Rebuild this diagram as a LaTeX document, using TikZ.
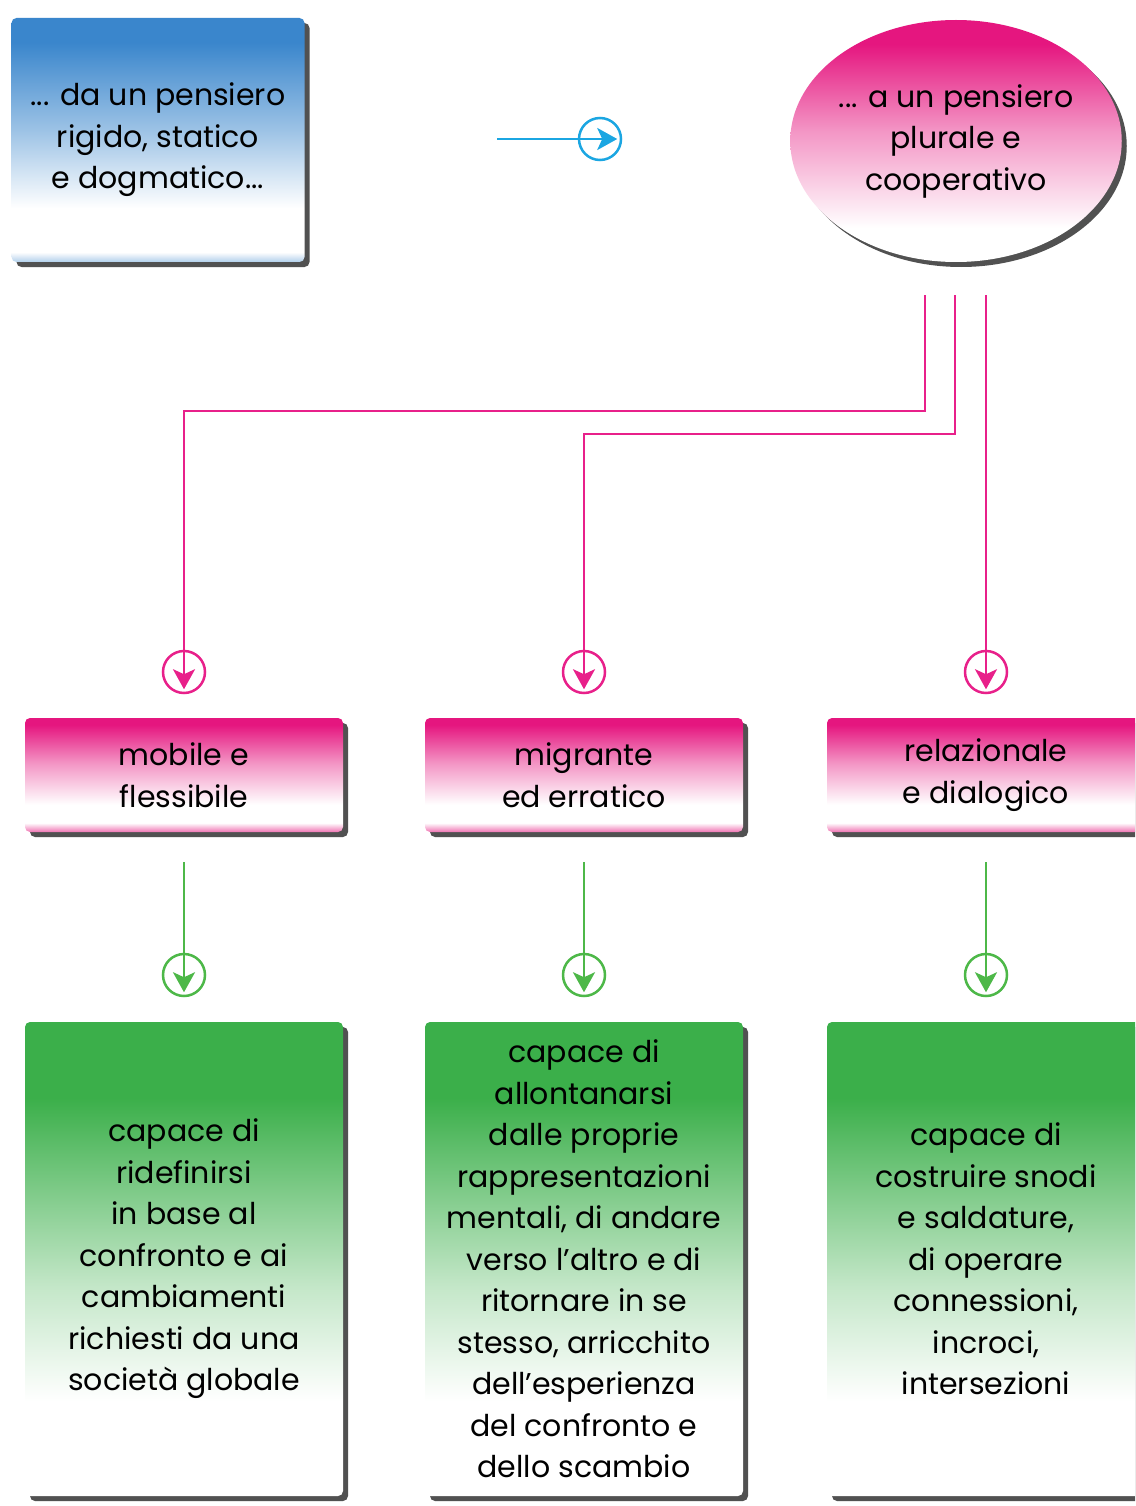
\documentclass[tikz,border=0pt]{standalone}
\usepackage{fontspec}
\setmainfont{Poppins}
\usetikzlibrary{arrows.meta, positioning, shapes.geometric, shadows}
\definecolor{mapBlue}{HTML}{3A86CC}
\definecolor{mapPink}{HTML}{E5167F}
\definecolor{mapGreen}{HTML}{3BAF4A}
\definecolor{lineBlue}{HTML}{1BA6E2}
\definecolor{linePink}{HTML}{E8208A}
\definecolor{lineGreen}{HTML}{4DB848}
\pgfdeclareverticalshading{blueshade}{100bp}{color(0bp)=(mapBlue!40!white); color(25bp)=(mapBlue!40!white);
  color(27bp)=(white); color(36bp)=(white); color(52bp)=(mapBlue!50!white); color(70bp)=(mapBlue); color(100bp)=(mapBlue)}
\pgfdeclareverticalshading{pinkshade}{100bp}{color(0bp)=(mapPink!60!white); color(25bp)=(mapPink!60!white);
  color(29bp)=(white); color(37bp)=(white); color(55bp)=(mapPink!45!white); color(72bp)=(mapPink); color(100bp)=(mapPink)}
\pgfdeclareverticalshading{bubbleshade}{100bp}{color(0bp)=(white); color(32bp)=(white);
  color(52bp)=(mapPink!45!white); color(70bp)=(mapPink); color(100bp)=(mapPink)}
\pgfdeclareverticalshading{greenshade}{100bp}{color(0bp)=(white); color(35bp)=(white);
  color(47bp)=(mapGreen!30!white); color(57bp)=(mapGreen!65!white); color(67bp)=(mapGreen); color(100bp)=(mapGreen)}

\begin{document}
\begin{tikzpicture}[x=1pt, y=1pt,
    txt/.style={align=center, text=black, font=\fontsize{30}{41.5}\selectfont},
    card/.style={txt, rounded corners=5pt, inner sep=0pt,
                 drop shadow={shadow xshift=5pt, shadow yshift=-5pt, fill=black!85, opacity=0.8}},
    bluebox/.style={card, shading=blueshade, minimum width=293pt, minimum height=244pt},
    pinkbox/.style={card, shading=pinkshade, minimum width=318pt, minimum height=114pt},
    greenbox/.style={card, shading=greenshade, minimum width=318pt, minimum height=474pt},
    bubble/.style={txt, ellipse, inner sep=0pt, shading=bubbleshade, minimum width=323pt, minimum height=242pt,
                   drop shadow={shadow xshift=5pt, shadow yshift=-5pt, fill=black!85, opacity=0.8}},
    ring/.style={circle, draw=#1, line width=2.5pt, minimum size=42pt, inner sep=0pt},
    arr/.style={line width=2.5pt, -{Stealth[length=20pt, width=22pt, inset=5pt]}, shorten >=5pt}
]
  \useasboundingbox (0,0) rectangle (1135,-1506);
  \clip (0,0) rectangle (1135,-1506);
  \fill[white] (0,0) rectangle (1135,-1506);

  % top row
  \node[bluebox] (rigido) at (158,-140) {... da un pensiero\\rigido, statico\\e dogmatico...};
  \node[bubble] (plurale) at (956,-141) {... a un pensiero\\plurale e\\cooperativo};
  \coordinate (b0) at (497,-139);
  \node[ring=lineBlue] (bc) at (600,-139) {};
  \draw[arr, lineBlue] (b0) -- (bc.east);

  % rings under the bubble
  \node[ring=linePink] (pr1) at (184,-672) {};
  \node[ring=linePink] (pr2) at (584,-672) {};
  \node[ring=linePink] (pr3) at (986,-672) {};
  \coordinate (s1) at (925,-295);
  \coordinate (s2) at (955,-295);
  \coordinate (s3) at (986,-295);
  \draw[arr, linePink] (s1) -- ++(0,-116) -| (pr1.south);
  \draw[arr, linePink] (s2) -- ++(0,-139) -| (pr2.south);
  \draw[arr, linePink] (s3) -- (pr3.south);

  % middle row
  \node[pinkbox] (mobile) at (184,-775) {mobile e\\flessibile};
  \node[pinkbox] (migrante) at (584,-775) {migrante\\ed erratico};
  \node[pinkbox] (relaz) at (986,-775) {relazionale\\e dialogico};

  \node[ring=lineGreen] (gr1) at (184,-975) {};
  \node[ring=lineGreen] (gr2) at (584,-975) {};
  \node[ring=lineGreen] (gr3) at (986,-975) {};
  \draw[arr, lineGreen, shorten <=30pt] (mobile) -- (gr1.south);
  \draw[arr, lineGreen, shorten <=30pt] (migrante) -- (gr2.south);
  \draw[arr, lineGreen, shorten <=30pt] (relaz) -- (gr3.south);

  % bottom row
  \node[greenbox] (ridef) at (184,-1259) {capace di\\ridefinirsi\\in base al\\confronto e ai\\cambiamenti\\richiesti da una\\società globale};
  \node[greenbox] (allont) at (584,-1259) {capace di\\allontanarsi\\dalle proprie\\rappresentazioni\\mentali, di andare\\verso l’altro e di\\ritornare in se\\stesso, arricchito\\dell’esperienza\\del confronto e\\dello scambio};
  \node[greenbox] (snodi) at (986,-1259) {capace di\\costruire snodi\\e saldature,\\di operare\\connessioni,\\incroci,\\intersezioni};
\end{tikzpicture}
\end{document}
